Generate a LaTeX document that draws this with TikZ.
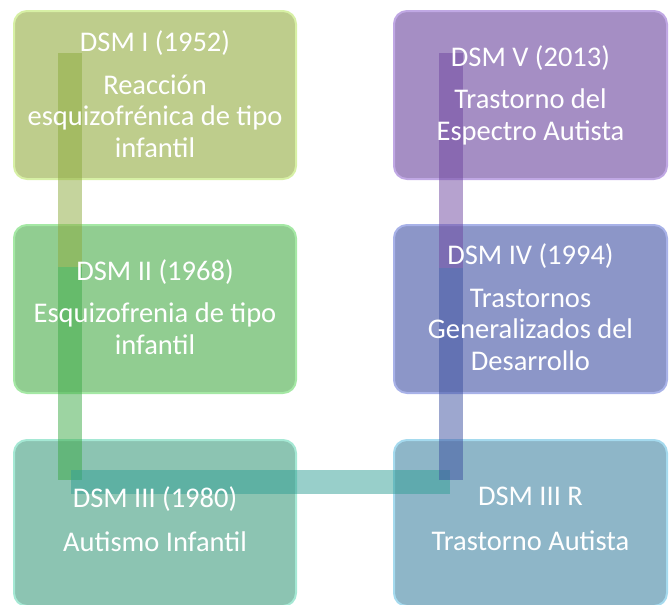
\documentclass[tikz,border=0pt]{standalone}
\usepackage{fontspec}
\setmainfont{Carlito}
\definecolor{fA}{RGB}{190,205,140}\definecolor{lA}{RGB}{215,240,165}\definecolor{cA}{RGB}{140,170,60}
\definecolor{fB}{RGB}{145,205,145}\definecolor{lB}{RGB}{165,232,165}\definecolor{cB}{RGB}{60,170,70}
\definecolor{fC}{RGB}{140,196,178}\definecolor{lC}{RGB}{165,232,212}\definecolor{cC}{RGB}{50,160,150}
\definecolor{fD}{RGB}{142,182,200}\definecolor{lD}{RGB}{165,218,238}\definecolor{cD}{RGB}{60,80,160}
\definecolor{fE}{RGB}{140,150,200}\definecolor{lE}{RGB}{168,178,232}\definecolor{cE}{RGB}{60,80,160}
\definecolor{fF}{RGB}{165,142,196}\definecolor{lF}{RGB}{192,168,228}\definecolor{cF}{RGB}{110,70,160}
\tikzset{
  box/.style={draw=#1, line width=2pt, rounded corners=13pt, minimum width=282pt, minimum height=168pt, inner sep=0pt},
  bar/.style={line width=24pt, draw=#1, draw opacity=0.5, line cap=butt},
  lbl/.style={text=white, align=center, font=\fontsize{28.5}{31.5}\selectfont, inner sep=0pt}
}
\begin{document}
\begin{tikzpicture}[x=1pt,y=-1pt]
\useasboundingbox (0,0) rectangle (670,605);
% boxes
\node[box=lA, fill=fA, minimum width=282pt] (b1) at (155,95) {};
\node[box=lB, fill=fB] (b2) at (155,309) {};
\node[box=lC, fill=fC, minimum height=166pt] (b3) at (155,523) {};
\node[box=lD, fill=fD, minimum width=273pt, minimum height=166pt] (b4) at (530.5,523) {};
\node[box=lE, fill=fE, minimum width=273pt] (b5) at (530.5,309) {};
\node[box=lF, fill=fF, minimum width=273pt] (b6) at (530.5,95) {};
% connector coordinates
\coordinate (p1) at (70,53);
\coordinate (p2) at (70,267);
\coordinate (p3) at (70,480);
\coordinate (q3) at (71,482);
\coordinate (q4) at (450,482);
\coordinate (p4) at (450.5,480);
\coordinate (p5) at (450.5,268);
\coordinate (p6) at (450.5,53);
\draw[bar=cA] (p1) -- (p2);
\draw[bar=cB] (p2) -- (p3);
\draw[bar=cC] (q3) -- (q4);
\draw[bar=cD] (p4) -- (p5);
\draw[bar=cF] (p5) -- (p6);
% texts
\node[lbl] (t1) at ([yshift=1pt]b1.center) {DSM I (1952)\\[11pt]Reacción\\esquizofrénica de tipo\\infantil};
\node[lbl] (t2) at ([yshift=2pt]b2.center) {DSM II (1968)\\[11pt]Esquizofrenia de tipo\\infantil};
\node[lbl] (t3) at ([yshift=4pt]b3.center) {DSM III (1980)\\[13pt]Autismo Infantil};
\node[lbl] (t4) at ([yshift=4pt]b4.center) {DSM III R\\[13pt]Trastorno Autista};
\node[lbl] (t5) at ([yshift=2pt]b5.center) {DSM IV (1994)\\[11pt]Trastornos\\Generalizados del\\Desarrollo};
\node[lbl] (t6) at (b6) {DSM V (2013)\\[11pt]Trastorno del\\Espectro Autista};
\end{tikzpicture}
\end{document}
